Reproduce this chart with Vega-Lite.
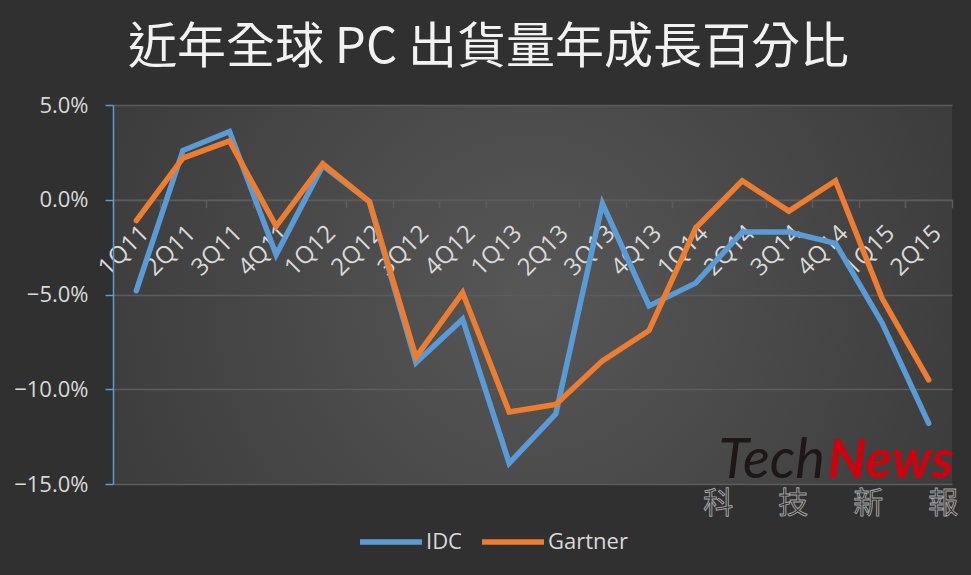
{
  "$schema": "https://vega.github.io/schema/vega-lite/v6.json",
  "width": 839,
  "height": 379,
  "autosize": "none",
  "padding": {"left": 113, "top": 105, "right": 19, "bottom": 91},
  "background": "#303030",
  "title": {
    "text": "近年全球 PC 出貨量年成長百分比",
    "font": "Noto Sans CJK TC",
    "fontSize": 49,
    "fontWeight": "normal",
    "color": "#f2f2f2",
    "anchor": "middle",
    "dx": -44,
    "offset": 21
  },
  "datasets": {
    "pc": [
      {"q": "1Q11", "src": "IDC", "v": -0.048},
      {"q": "2Q11", "src": "IDC", "v": 0.026},
      {"q": "3Q11", "src": "IDC", "v": 0.036},
      {"q": "4Q11", "src": "IDC", "v": -0.029},
      {"q": "1Q12", "src": "IDC", "v": 0.018},
      {"q": "2Q12", "src": "IDC", "v": -0.001},
      {"q": "3Q12", "src": "IDC", "v": -0.086},
      {"q": "4Q12", "src": "IDC", "v": -0.063},
      {"q": "1Q13", "src": "IDC", "v": -0.139},
      {"q": "2Q13", "src": "IDC", "v": -0.113},
      {"q": "3Q13", "src": "IDC", "v": -0.002},
      {"q": "4Q13", "src": "IDC", "v": -0.056},
      {"q": "1Q14", "src": "IDC", "v": -0.044},
      {"q": "2Q14", "src": "IDC", "v": -0.017},
      {"q": "3Q14", "src": "IDC", "v": -0.017},
      {"q": "4Q14", "src": "IDC", "v": -0.023},
      {"q": "1Q15", "src": "IDC", "v": -0.065},
      {"q": "2Q15", "src": "IDC", "v": -0.118},
      {"q": "1Q11", "src": "Gartner", "v": -0.011},
      {"q": "2Q11", "src": "Gartner", "v": 0.022},
      {"q": "3Q11", "src": "Gartner", "v": 0.031},
      {"q": "4Q11", "src": "Gartner", "v": -0.014},
      {"q": "1Q12", "src": "Gartner", "v": 0.019},
      {"q": "2Q12", "src": "Gartner", "v": -0.001},
      {"q": "3Q12", "src": "Gartner", "v": -0.083},
      {"q": "4Q12", "src": "Gartner", "v": -0.049},
      {"q": "1Q13", "src": "Gartner", "v": -0.112},
      {"q": "2Q13", "src": "Gartner", "v": -0.108},
      {"q": "3Q13", "src": "Gartner", "v": -0.085},
      {"q": "4Q13", "src": "Gartner", "v": -0.069},
      {"q": "1Q14", "src": "Gartner", "v": -0.015},
      {"q": "2Q14", "src": "Gartner", "v": 0.010},
      {"q": "3Q14", "src": "Gartner", "v": -0.006},
      {"q": "4Q14", "src": "Gartner", "v": 0.010},
      {"q": "1Q15", "src": "Gartner", "v": -0.052},
      {"q": "2Q15", "src": "Gartner", "v": -0.095}
    ],
    "logo": [
      {"q": "3Q14", "v": -0.1466, "a": "Tech", "b": "News", "c": "科\u3000\u2002技\u3000\u2002新\u3000\u2002報"}
    ]
  },
  "encoding": {
    "x": {
      "field": "q",
      "type": "ordinal",
      "scale": {
        "type": "band",
        "paddingInner": 0,
        "paddingOuter": 0,
        "domain": ["1Q11","2Q11","3Q11","4Q11","1Q12","2Q12","3Q12","4Q12","1Q13","2Q13","3Q13","4Q13","1Q14","2Q14","3Q14","4Q14","1Q15","2Q15"]
      },
      "axis": {
        "title": null,
        "offset": -284.25,
        "tickBand": "extent",
        "domainColor": "#5c5c5c",
        "domainWidth": 1.5,
        "tickColor": "#5c5c5c",
        "tickWidth": 1.5,
        "tickSize": 8,
        "labelAngle": -45,
        "labelAlign": "right",
        "labelBaseline": "top",
        "labelPadding": 13,
        "labelOffset": 0,
        "labelFont": "Open Sans",
        "labelFontSize": 24,
        "labelColor": "#d9d9d9",
        "grid": false
      }
    },
    "y": {
      "field": "v",
      "type": "quantitative",
      "scale": {"domain": [-0.15, 0.05], "nice": false, "zero": false},
      "axis": {
        "title": null,
        "values": [-0.15, -0.1, -0.05, 0, 0.05],
        "format": ".1%",
        "domainColor": "#5b9bd5",
        "domainWidth": 1.5,
        "tickColor": "#5b9bd5",
        "tickWidth": 1.5,
        "tickSize": 8,
        "labelPadding": 17,
        "labelFont": "Open Sans",
        "labelFontSize": 22,
        "labelColor": "#d9d9d9",
        "grid": true,
        "gridColor": "#5c5c5c",
        "gridWidth": 1.5
      }
    }
  },
  "layer": [
    {
      "data": {"name": "pc"},
      "mark": {"type": "line", "strokeWidth": 5.5, "strokeCap": "round", "strokeJoin": "miter"},
      "encoding": {
        "x": {"field": "q", "type": "ordinal", "bandPosition": 0.5},
        "color": {
          "field": "src",
          "type": "nominal",
          "sort": ["IDC", "Gartner"],
          "scale": {"domain": ["IDC", "Gartner"], "range": ["#5b9bd5", "#ed7d31"]},
          "legend": {
            "title": null,
            "orient": "none",
            "direction": "horizontal",
            "legendX": 244,
            "legendY": 403,
            "padding": 0,
            "symbolType": "stroke",
            "symbolSize": 3844,
            "symbolStrokeWidth": 5.5,
            "labelFont": "Open Sans",
            "labelFontSize": 22,
            "labelColor": "#d9d9d9",
            "labelOffset": 1,
            "columnPadding": 9
          }
        }
      }
    },
    {
      "data": {"name": "logo"},
      "mark": {"type": "text", "align": "right", "baseline": "alphabetic", "dx": 36, "font": "Lato", "fontSize": 56, "fontStyle": "italic", "fontWeight": "normal", "color": "#1e1715"},
      "encoding": {"x": {"field": "q", "type": "ordinal", "bandPosition": 0.5}, "text": {"field": "a"}}
    },
    {
      "data": {"name": "logo"},
      "mark": {"type": "text", "align": "left", "baseline": "alphabetic", "dx": 39, "font": "Lato", "fontSize": 54, "fontStyle": "italic", "fontWeight": "bold", "color": "#d0000e"},
      "encoding": {"x": {"field": "q", "type": "ordinal", "bandPosition": 0.5}, "text": {"field": "b"}}
    },
    {
      "data": {"name": "logo"},
      "mark": {"type": "text", "align": "center", "baseline": "alphabetic", "dx": 42, "dy": 35, "font": "Noto Sans CJK TC", "fontSize": 30, "fill": "#2e2e2e", "fillOpacity": 0.0, "stroke": "#a6a6a6", "strokeWidth": 0.9},
      "encoding": {"x": {"field": "q", "type": "ordinal", "bandPosition": 0.5}, "text": {"field": "c"}}
    }
  ],
  "config": {
    "view": {
      "stroke": null,
      "fill": {
        "gradient": "radial",
        "x1": 0.5, "y1": 0.5, "r1": 0,
        "x2": 0.5, "y2": 0.5, "r2": 0.75,
        "stops": [
          {"offset": 0, "color": "#575757"},
          {"offset": 1, "color": "#323232"}
        ]
      }
    }
  }
}
